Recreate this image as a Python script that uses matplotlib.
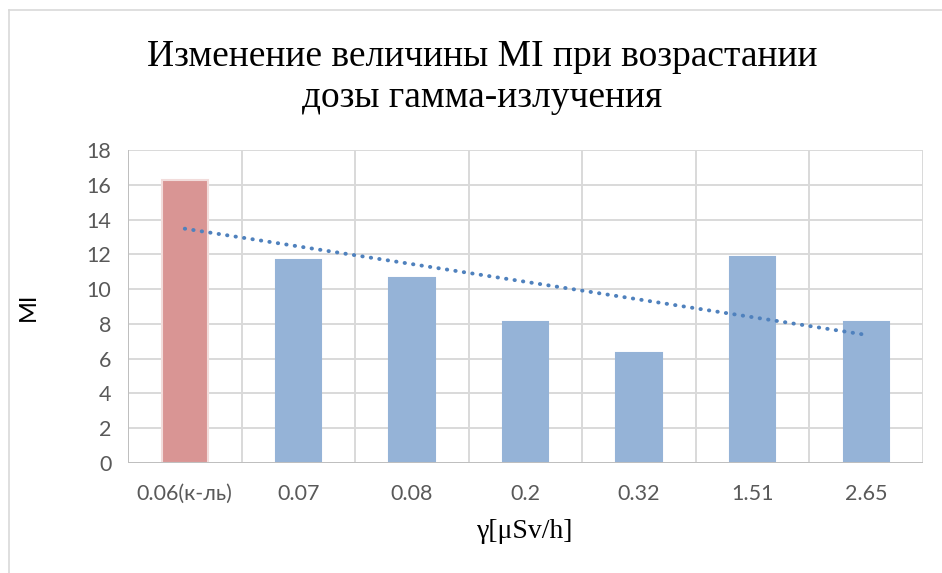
import numpy as np
import matplotlib
matplotlib.use("Agg")
import matplotlib.pyplot as plt
from matplotlib.lines import Line2D

categories = ["0.06(к-ль)", "0.07", "0.08", "0.2", "0.32", "1.51", "2.65"]
mi_values = [16.25, 11.7, 10.65, 8.1, 6.3, 11.85, 8.1]
title = "Изменение величины MI при возрастании\nдозы гамма-излучения"
x_label = "γ[μSv/h]"
y_label = "MI"
y_ticks = [0, 2, 4, 6, 8, 10, 12, 14, 16, 18]

W, H = 942, 573
fig = plt.figure(figsize=(W / 100, H / 100), dpi=100)
fig.patch.set_facecolor("white")

ax = fig.add_axes([128 / W, 1 - 463 / H, (923 - 128) / W, (463 - 150) / H])

x = np.arange(len(categories))
colors = ["#D99594"] + ["#95B3D7"] * (len(categories) - 1)
edges = ["#F2DCDB"] + ["#95B3D7"] * (len(categories) - 1)
ax.bar(x, mi_values, width=0.4, color=colors, edgecolor=edges, linewidth=1.5, zorder=3)

# linear trend line
coef = np.polyfit(x, mi_values, 1)
trend = np.polyval(coef, x)
ax.plot(x, trend, color="#4F81BD", linewidth=2.8, linestyle=(0, (0.1, 2.1)),
        dash_capstyle="round", zorder=4)

ax.set_xlim(-0.5, len(categories) - 0.5)
ax.set_ylim(0, 18)
ax.set_yticks(y_ticks)
ax.set_xticks(x)
ax.set_xticklabels(categories)

for b in np.arange(-0.5, len(categories) + 0.5, 1.0):
    ax.axvline(b, color="#D9D9D9", linewidth=1.4, zorder=1)
for t in y_ticks:
    ax.axhline(t, color="#D9D9D9", linewidth=1.4, zorder=1)

for s in ax.spines.values():
    s.set_visible(False)
ax.axhline(0, color="#BFBFBF", linewidth=1.4, zorder=5)
ax.axvline(-0.5, color="#BFBFBF", linewidth=1.4, zorder=2)

ax.tick_params(axis="both", length=0, labelsize=15.5, labelcolor="#595959")
ax.tick_params(axis="y", pad=12)
ax.tick_params(axis="x", pad=15)
for lbl in ax.get_xticklabels() + ax.get_yticklabels():
    lbl.set_family(["Lato", "DejaVu Sans"])

ax.set_ylabel(y_label, fontsize=17, family=["Lato", "DejaVu Sans"], color="black")
ax.yaxis.set_label_coords(-0.112, 0.5)
ax.set_xlabel(x_label, fontsize=20, fontfamily="Liberation Serif", color="black")
ax.xaxis.set_label_coords(0.5, -0.178)

fig.text(482 / W, 1 - 77 / H, title, ha="center", va="center", multialignment="center",
         fontsize=27, family=["Liberation Serif", "DejaVu Serif"], linespacing=1.25)

fig.add_artist(Line2D([9 / W, 9 / W], [0, 1 - 10 / H], color="#D9D9D9", linewidth=1.2,
                      transform=fig.transFigure))
fig.add_artist(Line2D([9 / W, 1], [1 - 10 / H, 1 - 10 / H], color="#D9D9D9", linewidth=1.2,
                      transform=fig.transFigure))

fig.savefig("out.png", dpi=100)
